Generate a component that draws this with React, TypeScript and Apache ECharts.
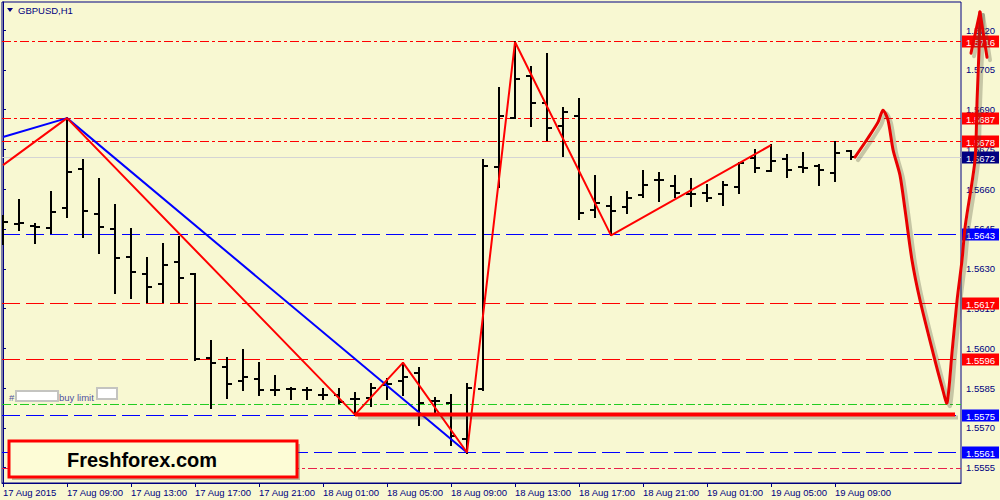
import React, { useEffect, useRef } from "react";
import * as echarts from "echarts";

// ---------- data ----------
const timeLabels = [
  "17 Aug 2015", "17 Aug 09:00", "17 Aug 13:00", "17 Aug 17:00", "17 Aug 21:00",
  "18 Aug 01:00", "18 Aug 05:00", "18 Aug 09:00", "18 Aug 13:00", "18 Aug 17:00",
  "18 Aug 21:00", "19 Aug 01:00", "19 Aug 05:00", "19 Aug 09:00",
];
const labelBars = [0, 4, 8, 12, 16, 20, 24, 28, 32, 36, 40, 44, 48, 52];
const priceTicks = [
  1.5555, 1.557, 1.5585, 1.56, 1.5615, 1.563, 1.5645, 1.566, 1.5675, 1.569, 1.5705, 1.572,
];

const opens = [
  1.56486, 1.56467, 1.5646, 1.56452, 1.56529, 1.56675, 1.56505, 1.56449, 1.56343, 1.56279,
  1.56241, 1.56324, 1.56279, 1.55962, 1.55931, 1.55878, 1.55886, 1.55844, 1.55848, 1.55841,
  1.55822, 1.55822, 1.5581, 1.55814, 1.55863, 1.55878, 1.55905, 1.55803, 1.55792, 1.55659,
  1.55848, 1.56683, 1.56868, 1.57026, 1.56924, 1.56838, 1.56875, 1.5652, 1.56535, 1.56532,
  1.56577, 1.56634, 1.56611, 1.56581, 1.56585, 1.56581, 1.56607, 1.56717, 1.56668, 1.56713,
  1.56683, 1.56687, 1.5666, 1.56743,
];
const highs = [
  1.56498, 1.56558, 1.56467, 1.56588, 1.56868, 1.56709, 1.56637, 1.56539, 1.56449, 1.56339,
  1.56395, 1.56418, 1.56282, 1.56026, 1.55965, 1.55995, 1.55946, 1.55897, 1.55852, 1.55852,
  1.55848, 1.55848, 1.55831, 1.55867, 1.55886, 1.55946, 1.55924, 1.55814, 1.55825, 1.55867,
  1.56709, 1.56981, 1.57155, 1.5706, 1.57109, 1.56905, 1.5694, 1.56649, 1.56569, 1.56588,
  1.56668, 1.5666, 1.56649, 1.56637, 1.56615, 1.56626, 1.56698, 1.56747, 1.56766, 1.56728,
  1.56736, 1.5669, 1.56777, 1.56743,
];
const lows = [
  1.56395, 1.56445, 1.56397, 1.56435, 1.56494, 1.56418, 1.56358, 1.56207, 1.56188, 1.56173,
  1.56173, 1.56173, 1.55954, 1.55776, 1.55814, 1.55844, 1.55825, 1.55825, 1.55807, 1.55807,
  1.55807, 1.55795, 1.5575, 1.55784, 1.5581, 1.55822, 1.55712, 1.55754, 1.55637, 1.55607,
  1.55841, 1.56607, 1.56868, 1.56837, 1.56784, 1.56724, 1.56486, 1.56494, 1.56426, 1.56509,
  1.56569, 1.56554, 1.56569, 1.56535, 1.56554, 1.56539, 1.56585, 1.56664, 1.56668, 1.56645,
  1.56664, 1.56615, 1.5663, 1.56713,
];
const closes = [
  1.56475, 1.56471, 1.56456, 1.56513, 1.56664, 1.56517, 1.56456, 1.56339, 1.56286, 1.5623,
  1.56313, 1.56267, 1.55958, 1.55946, 1.55867, 1.55893, 1.55841, 1.55841, 1.55848, 1.55841,
  1.55822, 1.55799, 1.5581, 1.55852, 1.55867, 1.55893, 1.55792, 1.55803, 1.55671, 1.55852,
  1.56687, 1.56875, 1.57015, 1.56924, 1.5683, 1.5689, 1.56509, 1.56547, 1.56517, 1.56566,
  1.56615, 1.56634, 1.56585, 1.56581, 1.56566, 1.56615, 1.56698, 1.56679, 1.56705, 1.56671,
  1.56679, 1.56671, 1.56736, 1.5672,
];

const redZigzag = [
  [0, 1.56691], [4, 1.56868], [22, 1.5575], [25, 1.55946], [29, 1.55607],
  [32, 1.57155], [38, 1.56426], [48, 1.56766],
];
const blueZigzag = [[0, 1.56797], [4, 1.56868], [29, 1.55607]];

const projection = [
  [53.25, 1.56721], [54.06, 1.56793], [54.69, 1.56853], [55.0, 1.56898], [55.31, 1.56861],
  [55.63, 1.56748], [56.06, 1.56653], [56.38, 1.56521], [56.81, 1.56333], [57.31, 1.56182],
  [58.13, 1.55982], [58.69, 1.55854], [59.0, 1.55794], [59.31, 1.55982], [59.63, 1.56182],
  [59.94, 1.56333], [60.13, 1.56457], [60.75, 1.5671], [60.88, 1.56936], [61.0, 1.57125],
  [61.06, 1.57268],
];
const arrowHead = [[60.5, 1.57113], [61.06, 1.57268], [61.5, 1.57098]];
const supportLevel = [[22, 1.5575, 59.5]]; // [from bar, price, to bar]

const levelValues = [1.5716, 1.5687, 1.5678, 1.5672, 1.5643, 1.5617, 1.5596, 1.5579, 1.5575, 1.5561, 1.5555];
const levelKinds = ["redDD", "redDD", "redDD", "bid", "blueD", "redD", "redD", "greenDD", "blueD", "blueD", "crimsonDD"];

// ---------- styles ----------
const NAVY = "#000080";
const BG = "#f8f8d2";
const FONT = "'Liberation Sans', Arial, sans-serif";
const DASH = [18, 6];
const DASHDOT = [9, 3, 3, 3];

const kindStyle: Record<string, any> = {
  redDD: { color: "#ff0000", dash: DASHDOT, label: "#ff0000" },
  bid: { color: "#d4d4d4", dash: null, label: NAVY },
  blueD: { color: "#0000ff", dash: DASH, label: "#0000ff" },
  redD: { color: "#ff0000", dash: DASH, label: "#ff0000" },
  greenDD: { color: "#22cc22", dash: DASHDOT, label: null },
  crimsonDD: { color: "#e8204a", dash: DASHDOT, label: null },
};

const SHADOW_COLOR = "rgba(70,70,50,0.28)";

function pathSeries(name: string, pts: number[][], smooth: number) {
  return {
    type: "custom",
    name,
    clip: false,
    silent: true,
    z: 10,
    data: [pts[0]],
    renderItem: (params: any, api: any) => {
      const points = pts.map((p) => api.coord(p));
      const shadowPts = points.map((p: number[]) => [p[0] + 3, p[1] + 3]);
      return {
        type: "group",
        children: [
          {
            type: "polyline",
            shape: { points: shadowPts, smooth },
            style: { fill: "none", stroke: SHADOW_COLOR, lineWidth: 4, lineCap: "round", lineJoin: "round" },
          },
          {
            type: "polyline",
            shape: { points, smooth },
            style: { fill: "none", stroke: "#e80000", lineWidth: 3, lineCap: "round", lineJoin: "round" },
          },
        ],
      };
    },
  };
}

export default function App() {
  const ref = useRef<HTMLDivElement>(null);
  useEffect(() => {
    if (!ref.current) return;
    const chart = echarts.init(ref.current, null, { renderer: "svg" });

    const ohlc = opens.map((o, i) => [i, o, highs[i], lows[i], closes[i]]);
    const levelData = levelValues.map((v, i) => [0, v, i]);

    chart.setOption({
      animation: false,
      backgroundColor: BG,
      grid: {
        left: 2,
        top: 2,
        right: 39,
        bottom: 17,
        show: true,
        borderColor: NAVY,
        borderWidth: 1,
        backgroundColor: "transparent",
        outerBoundsMode: "none",
      },
      xAxis: {
        type: "value",
        min: -0.0625,
        max: 59.875,
        axisLine: { show: true, lineStyle: { color: NAVY, width: 1 } },
        axisTick: { show: true, length: 4, customValues: labelBars, lineStyle: { color: NAVY } },
        axisLabel: {
          customValues: labelBars,
          formatter: (v: number) => timeLabels[labelBars.indexOf(Math.round(v))] ?? "",
          align: "left",
          margin: 4,
          color: NAVY,
          fontSize: 9.5,
          fontFamily: FONT,
        },
        splitLine: { show: false },
      },
      yAxis: {
        type: "value",
        position: "right",
        min: 1.55492,
        max: 1.57306,
        axisLine: { show: true, lineStyle: { color: NAVY, width: 1 } },
        axisTick: { show: true, length: 3, customValues: priceTicks, lineStyle: { color: NAVY } },
        axisLabel: {
          customValues: priceTicks,
          formatter: (v: number) => v.toFixed(4),
          margin: 5,
          color: NAVY,
          fontSize: 9.5,
          fontFamily: FONT,
        },
        splitLine: { show: false },
      },
      series: [
        {
          type: "custom",
          name: "levels",
          clip: false,
          silent: true,
          z: 2,
          encode: { x: 0, y: 1 },
          data: levelData,
          renderItem: (params: any, api: any) => {
            const v = api.value(1);
            const s = kindStyle[levelKinds[api.value(2)]];
            const cs = params.coordSys;
            const y = Math.round(api.coord([0, v])[1]) + 0.5;
            const right = cs.x + cs.width;
            const children: any[] = [
              {
                type: "line",
                shape: { x1: cs.x, y1: y, x2: right, y2: y },
                style: { stroke: s.color, lineWidth: 1, lineDash: s.dash || undefined },
              },
            ];
            if (s.label) {
              children.push({
                type: "rect",
                shape: { x: right + 1, y: y - 6, width: 37, height: 12 },
                style: { fill: s.label },
              });
              children.push({
                type: "text",
                x: right + 5,
                y: y + 0.5,
                style: {
                  text: v.toFixed(4),
                  fill: "#ffffff",
                  font: `9.5px ${FONT}`,
                  verticalAlign: "middle",
                  align: "left",
                },
              });
            }
            return { type: "group", children };
          },
        },
        {
          type: "custom",
          name: "GBPUSD",
          clip: true,
          z: 3,
          encode: { x: 0, y: [1, 2, 3, 4] },
          data: ohlc,
          renderItem: (params: any, api: any) => {
            const i = api.value(0);
            const pO = api.coord([i, api.value(1)]);
            const pH = api.coord([i, api.value(2)]);
            const pL = api.coord([i, api.value(3)]);
            const pC = api.coord([i, api.value(4)]);
            const x = Math.round(pO[0]);
            const yo = Math.round(pO[1]);
            const yc = Math.round(pC[1]);
            const st = { stroke: "#000000", lineWidth: 2 };
            return {
              type: "group",
              children: [
                { type: "line", shape: { x1: x, y1: Math.round(pH[1]) - 1, x2: x, y2: Math.round(pL[1]) + 1 }, style: st },
                { type: "line", shape: { x1: x - 5, y1: yo, x2: x, y2: yo }, style: st },
                { type: "line", shape: { x1: x, y1: yc, x2: x + 5, y2: yc }, style: st },
              ],
            };
          },
        },
        {
          type: "line",
          name: "blue zigzag",
          data: blueZigzag,
          showSymbol: false,
          silent: true,
          z: 4,
          lineStyle: { color: "#0000ff", width: 2 },
        },
        {
          type: "line",
          name: "red zigzag",
          data: redZigzag,
          showSymbol: false,
          silent: true,
          z: 5,
          lineStyle: { color: "#ff0000", width: 2 },
        },
        {
          type: "custom",
          name: "support",
          clip: false,
          silent: true,
          z: 6,
          data: supportLevel,
          renderItem: (params: any, api: any) => {
            const p1 = api.coord([api.value(0), api.value(1)]);
            const p2 = api.coord([api.value(2), api.value(1)]);
            return {
              type: "group",
              children: [
                {
                  type: "rect",
                  shape: { x: p1[0] + 3, y: p1[1] + 1, width: p2[0] - p1[0], height: 4 },
                  style: { fill: SHADOW_COLOR },
                },
                {
                  type: "rect",
                  shape: { x: p1[0], y: p1[1] - 2, width: p2[0] - p1[0], height: 4 },
                  style: { fill: "#ff0000" },
                },
              ],
            };
          },
        },
        pathSeries("projection", projection, 0.25),
        pathSeries("arrow", arrowHead, 0),
      ],
      graphic: [
        {
          type: "polygon",
          z: 50,
          shape: { points: [[7, 8], [13, 8], [10, 12]] },
          style: { fill: NAVY },
        },
        {
          type: "text",
          z: 50,
          x: 18,
          y: 10,
          style: { text: "GBPUSD,H1", fill: NAVY, font: `9.5px ${FONT}`, verticalAlign: "middle" },
        },
        {
          type: "text",
          z: 50,
          x: 9,
          y: 397,
          style: { text: "#", fill: "#5050a0", font: `9.5px ${FONT}`, verticalAlign: "middle" },
        },
        {
          type: "rect",
          z: 50,
          shape: { x: 16, y: 391, width: 42, height: 10 },
          style: { fill: "#ffffff", stroke: "#c4c4c0", lineWidth: 2 },
        },
        {
          type: "text",
          z: 50,
          x: 59,
          y: 397,
          style: { text: "buy limit", fill: "#5050a0", font: `9.5px ${FONT}`, verticalAlign: "middle" },
        },
        {
          type: "rect",
          z: 50,
          shape: { x: 97, y: 388, width: 20, height: 11 },
          style: { fill: "#ffffff", stroke: "#c4c4c0", lineWidth: 2 },
        },
        {
          type: "rect",
          z: 50,
          shape: { x: 12, y: 444, width: 288, height: 36 },
          style: { fill: "rgba(70,70,50,0.35)" },
        },
        {
          type: "rect",
          z: 51,
          shape: { x: 9, y: 441, width: 288, height: 36 },
          style: { fill: "#fdfcd6", stroke: "#ff0000", lineWidth: 3 },
        },
        {
          type: "text",
          z: 52,
          x: 67,
          y: 460,
          style: {
            text: "Freshforex.com",
            fill: "#000000",
            font: `bold 20px ${FONT}`,
            verticalAlign: "middle",
          },
        },
      ],
    });
    return () => chart.dispose();
  }, []);
  return (
    <div
      ref={ref}
      style={{ position: "fixed", left: 0, top: 0, width: 1000, height: 500, background: BG }}
    />
  );
}
